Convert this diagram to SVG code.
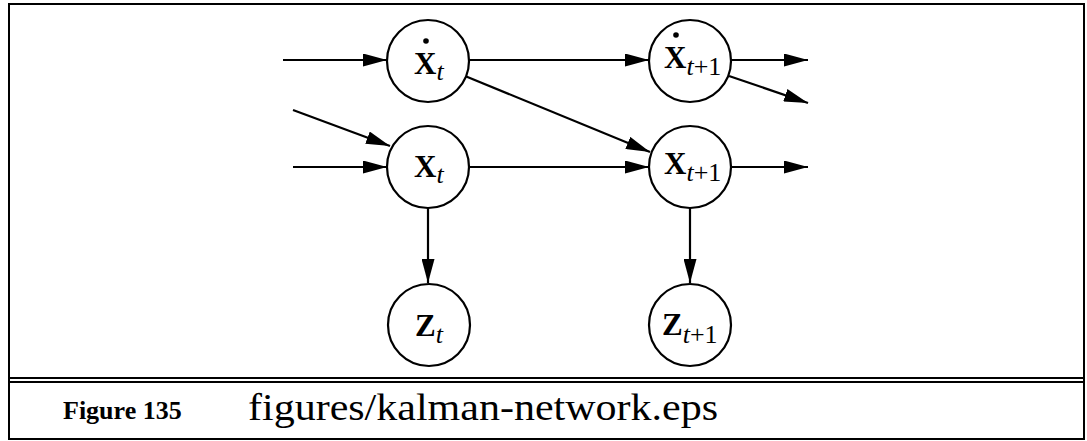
<svg xmlns="http://www.w3.org/2000/svg" width="1087" height="441" viewBox="0 0 1087 441">
<style>
.frame{fill:none;stroke:#000;stroke-width:2}
.ring{fill:#fff;stroke:#000;stroke-width:2.2}
.dot{fill:#000;stroke:none}
.edge{stroke:#000;stroke-width:2.2;fill:none;marker-end:url(#ah)}
.lbl{font-family:"Liberation Serif","Times New Roman",serif;font-weight:bold;font-size:31px;fill:#000}
.sub{font-family:"Liberation Serif","Times New Roman",serif;font-style:italic;font-weight:normal;font-size:26px}
.num{font-style:normal}
.cap{font-family:"Liberation Serif","Times New Roman",serif;fill:#000}
</style>
<defs>
<marker id="ah" markerWidth="24" markerHeight="13" refX="24" refY="6.5" orient="auto" markerUnits="userSpaceOnUse">
<path d="M0,0 L24,6.5 L0,13 Z" fill="#000"/>
</marker>
</defs>
<rect class="frame" x="9" y="4" width="1075" height="435"/>
<line x1="9" y1="378" x2="1084" y2="378" stroke="#000" stroke-width="2"/>
<line x1="9" y1="382" x2="1084" y2="382" stroke="#000" stroke-width="2"/>
<g id="connectors">
<line class="edge" x1="283" y1="60" x2="387" y2="60"/>
<line class="edge" x1="293" y1="110" x2="390" y2="146"/>
<line class="edge" x1="293" y1="167" x2="387" y2="167"/>
<line class="edge" x1="469" y1="60" x2="649" y2="60"/>
<line class="edge" x1="465" y1="76" x2="650" y2="152"/>
<line class="edge" x1="469" y1="167" x2="649" y2="167"/>
<line class="edge" x1="731" y1="60" x2="808" y2="60"/>
<line class="edge" x1="729" y1="76" x2="808" y2="103"/>
<line class="edge" x1="731" y1="167" x2="808" y2="167"/>
<line class="edge" x1="428" y1="208" x2="428" y2="283"/>
<line class="edge" x1="690" y1="208" x2="690" y2="283"/>
</g>
<g id="xdot_t">
<circle class="ring" cx="428" cy="61" r="41"/>
<circle class="dot" cx="426" cy="41" r="2.8"/>
<text class="lbl" x="414" y="74">X<tspan class="sub" dy="6">t</tspan></text>
</g>
<g id="xdot_t1">
<circle class="ring" cx="690" cy="61" r="41"/>
<circle class="dot" cx="676" cy="35" r="2.8"/>
<text class="lbl" x="664" y="68">X<tspan class="sub" dy="7">t<tspan class="num">+1</tspan></tspan></text>
</g>
<g id="x_t">
<circle class="ring" cx="428" cy="167" r="41"/>
<text class="lbl" x="414" y="177">X<tspan class="sub" dy="6">t</tspan></text>
</g>
<g id="x_t1">
<circle class="ring" cx="690" cy="167" r="41"/>
<text class="lbl" x="664" y="174">X<tspan class="sub" dy="7">t<tspan class="num">+1</tspan></tspan></text>
</g>
<g id="z_t">
<circle class="ring" cx="429" cy="325" r="41"/>
<text class="lbl" x="415" y="336">Z<tspan class="sub" dy="7">t</tspan></text>
</g>
<g id="z_t1">
<circle class="ring" cx="690" cy="325" r="41"/>
<text class="lbl" x="662" y="335">Z<tspan class="sub" dy="8">t<tspan class="num">+1</tspan></tspan></text>
</g>
<g id="caption">
<text class="cap" x="63" y="419" font-size="26" font-weight="bold">Figure 135</text>
<text class="cap" x="248" y="420" font-size="38" textLength="470" lengthAdjust="spacingAndGlyphs">figures/kalman-network.eps</text>
</g>
</svg>
